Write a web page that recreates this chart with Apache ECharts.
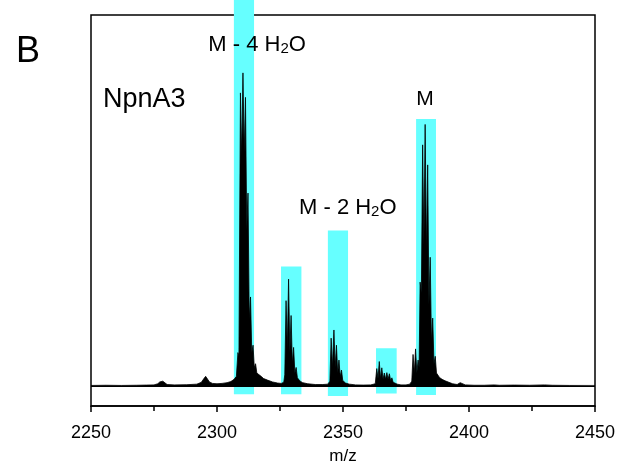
<!DOCTYPE html>
<html>
<head>
<meta charset="utf-8">
<script src="https://cdn.jsdelivr.net/npm/echarts@6/dist/echarts.min.js"></script>
<style>html,body{margin:0;padding:0;background:#fff}#c{width:622px;height:466px}</style>
</head>
<body>
<div id="c"></div>
<script>
// ---- data ----
const xTicks = [2250, 2300, 2350, 2400, 2450];
// spectrum profile (m/z, relative intensity)
const specMz = [
  2250, 2256, 2262, 2268, 2272, 2275, 2276.5, 2277.3, 2277.9, 2278.5, 2279.2, 2280.2, 2283, 2288,
  2292, 2293.8, 2294.8, 2295.5, 2296.2, 2297, 2298.2, 2300, 2302, 2304, 2305.5, 2306.8, 2307.7,
  2308.3, 2308.7, 2309.3, 2309.8, 2310.3, 2310.8, 2311.3, 2311.8, 2312.3, 2312.8, 2313.3, 2313.8,
  2314.3, 2314.8, 2315.3, 2315.8, 2316.5, 2317.5, 2318.5, 2320, 2322, 2324, 2325.5,
  2326.5, 2326.9, 2327.4, 2327.9, 2328.4, 2328.9, 2329.4, 2329.9, 2330.4, 2330.9, 2331.4, 2331.9,
  2332.4, 2333, 2334, 2336, 2339, 2342, 2344,
  2344.8, 2345.3, 2345.8, 2346.4, 2346.9, 2347.4, 2347.9, 2348.4, 2348.9, 2349.4, 2349.9, 2350.4,
  2351, 2352.5, 2355, 2358, 2361,
  2362.8, 2363.4, 2363.9, 2364.4, 2364.9, 2365.4, 2365.9, 2366.4, 2366.9, 2367.4, 2367.9, 2368.4,
  2368.9, 2369.4, 2369.9, 2370.4, 2371.5, 2373, 2375,
  2376.5, 2377.3, 2377.8, 2378.3, 2378.8, 2379.3, 2379.8, 2380.2, 2380.6, 2381.1, 2381.6, 2382.1,
  2382.6, 2383.1, 2383.6, 2384.1, 2384.6, 2385.1, 2385.6, 2386.1, 2386.6, 2387.1, 2387.6, 2388.3,
  2389.3, 2390.5, 2392, 2393.5, 2395.3, 2396, 2396.5, 2397.2, 2398.5, 2402, 2406, 2410, 2412,
  2418, 2424, 2430, 2433, 2440, 2450
];
const specInt = [
  0.15, 0.2, 0.15, 0.2, 0.25, 0.3, 0.6, 1.1, 1.5, 1.3, 0.8, 0.4, 0.3, 0.35,
  0.5, 1.0, 2.0, 2.6, 2.1, 1.1, 0.7, 0.6, 0.7, 0.9, 1.2, 1.8, 2.6,
  9, 8, 79, 62, 84.4, 63, 77.8, 42, 52, 18, 24, 9,
  11, 5, 6, 3.5, 3.5, 2.6, 2.0, 1.6, 1.1, 0.8, 0.7,
  1.0, 3, 23, 10, 28.8, 9, 19, 6, 10.4, 3.5, 5, 2.2,
  2.5, 1.3, 0.9, 0.6, 0.4, 0.4, 0.5,
  1.3, 12.9, 5, 15.1, 5, 11, 3.5, 7, 2.5, 4.3, 1.5, 2,
  0.8, 0.5, 0.3, 0.25, 0.3,
  0.6, 4.7, 2, 6.6, 2, 4.9, 1.8, 3.5, 1.8, 3.6, 1.8, 3.3,
  1.5, 2.2, 1.0, 1.3, 0.5, 0.3, 0.3,
  0.5, 1.3, 8.5, 3.5, 10, 3.5, 7, 5, 28, 25, 65, 38,
  70.5, 36, 59.6, 22, 34.7, 12, 18.3, 6, 8, 3.5, 3.8, 2.3,
  1.8, 1.4, 1.0, 0.6, 0.4, 0.8, 0.9, 0.6, 0.3, 0.2, 0.2, 0.3, 0.2,
  0.25, 0.2, 0.3, 0.2, 0.15, 0.15
];
// highlighted peak groups (m/z range and intensity range)
const hlStart  = [2306.7, 2325.4, 2344.0, 2363.1, 2379.0];
const hlEnd    = [2314.7, 2333.5, 2352.0, 2371.3, 2386.9];
const hlBottom = [-2.2, -2.2, -2.7, -2.0, -2.4];
const hlTop    = [106, 32.2, 41.9, 10.2, 72.0];
// peak labels
const labelText = ['{a|M - 4 H}{s|2}{a|O}', '{a|M - 2 H}{s|2}{a|O}', '{m|M}'];
const labelMz   = [2315.9, 2351.9, 2382.5];
const labelInt  = [91.9, 47.9, 77.3];

const FONT = 'Liberation Sans, Arial, Helvetica, sans-serif';
const spectrum = specMz.map((m, i) => [m, specInt[i]]);
const boxes = hlStart.map((s, i) => [s, hlEnd[i], hlBottom[i], hlTop[i]]);
const labels = labelMz.map((m, i) => ({ value: [m, labelInt[i]], text: labelText[i] }));

const chart = echarts.init(document.getElementById('c'), null, { renderer: 'canvas' });
chart.setOption({
  animation: false,
  backgroundColor: '#fff',
  grid: { left: 91, right: 27, top: 15, bottom: 60, show: true, borderColor: '#000', borderWidth: 1.5,
    backgroundColor: 'transparent', containLabel: false, outerBoundsMode: 'none' },
  xAxis: {
    type: 'value', min: xTicks[0], max: xTicks[xTicks.length - 1], interval: 50,
    name: 'm/z', nameLocation: 'middle', nameGap: 42,
    nameTextStyle: { fontFamily: FONT, fontSize: 17, color: '#000' },
    axisLine: { show: true, onZero: false, lineStyle: { color: '#000', width: 1.5 } },
    axisTick: { show: true, inside: false, length: 6, lineStyle: { color: '#000', width: 1.5 } },
    minorTick: { show: true, splitNumber: 2, length: 5, lineStyle: { color: '#000', width: 1.5 } },
    axisLabel: { fontFamily: FONT, fontSize: 18, color: '#000', margin: 18, formatter: v => String(v) },
    splitLine: { show: false }
  },
  yAxis: { type: 'value', min: -5.39, max: 100, show: false, splitLine: { show: false } },
  graphic: [
    { type: 'text', left: 16, top: 34, style: { text: 'B', font: '36px ' + FONT, fill: '#000', verticalAlign: 'middle' } },
    { type: 'text', left: 103, top: 86, style: { text: 'NpnA3', font: '27px ' + FONT, fill: '#000', verticalAlign: 'middle' } }
  ],
  series: [
    {
      type: 'custom', z: 1, clip: false, silent: true,
      data: boxes,
      encode: { x: [0, 1], y: [2, 3] },
      renderItem: (params, api) => {
        const a = api.coord([api.value(0), api.value(3)]);
        const b = api.coord([api.value(1), api.value(2)]);
        return { type: 'rect', shape: { x: a[0], y: a[1], width: b[0] - a[0], height: b[1] - a[1] }, style: { fill: '#66ffff' } };
      }
    },
    {
      type: 'line', z: 3, data: spectrum, symbol: 'none', silent: true,
      lineStyle: { color: '#000', width: 0.8 },
      areaStyle: { color: '#000', opacity: 1, origin: 0 },
      markLine: { silent: true, symbol: 'none', label: { show: false },
        lineStyle: { color: '#000', width: 1, type: 'solid', opacity: 1 }, data: [{ yAxis: 0 }] }
    },
    {
      type: 'scatter', z: 4, symbolSize: 0, silent: true,
      data: labels,
      itemStyle: { color: '#000', opacity: 1 },
      label: {
        show: true, position: 'inside', formatter: p => p.data.text, color: '#000', opacity: 1,
        textBorderWidth: 0,
        rich: {
          a: { fontFamily: FONT, fontSize: 22, color: '#000' },
          s: { fontFamily: FONT, fontSize: 15, color: '#000', verticalAlign: 'bottom' },
          m: { fontFamily: FONT, fontSize: 21, color: '#000' }
        }
      }
    }
  ]
});
</script>
</body>
</html>
